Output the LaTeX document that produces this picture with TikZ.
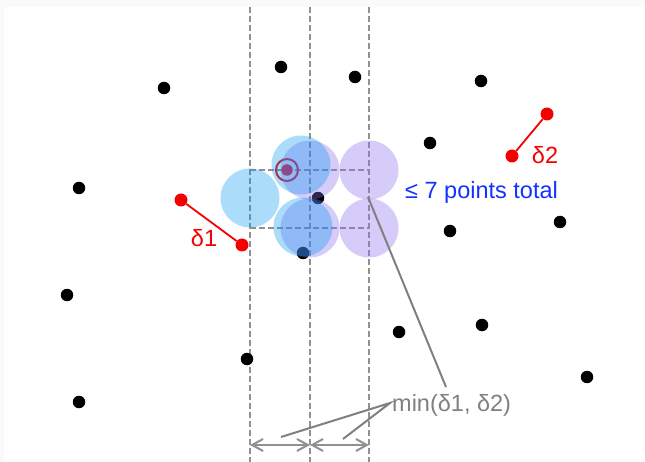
\documentclass[tikz,border=0pt]{standalone}
\usepackage{fontspec}
\setmainfont{Liberation Sans}
\usetikzlibrary{arrows.meta}
\definecolor{dotred}{RGB}{245,0,0}
\definecolor{lblue}{RGB}{0,150,240}
\definecolor{lpurp}{RGB}{140,110,240}
\definecolor{txtblue}{RGB}{20,50,255}
\definecolor{lgray}{RGB}{128,128,128}
\definecolor{dgray}{RGB}{145,145,145}
\tikzset{
  pt/.style={circle,fill=black,inner sep=0pt,minimum size=12.5pt},
  rpt/.style={circle,fill=dotred,inner sep=0pt,minimum size=13pt},
  seg/.style={draw=dotred,line width=1.8pt},
  grid/.style={draw=dgray,dash pattern=on 6pt off 3pt,line width=2pt},
  bdisk/.style={fill=lblue,fill opacity=0.33},
  pdisk/.style={fill=lpurp,fill opacity=0.35},
  ptr/.style={draw=lgray,line width=2pt},
  dim/.style={draw=dgray,line width=2pt,{Straight Barb[length=11pt,width=12pt]}-{Straight Barb[length=11pt,width=12pt]}},
  lbl/.style={font=\fontsize{23.5}{28}\selectfont,inner sep=0pt}
}
\begin{document}
\begin{tikzpicture}[x=1pt,y=-1pt]
\useasboundingbox (0,0) rectangle (645,462);
\fill[black!2] (0,0) rectangle (645,462);
\fill[white] (4,7) rectangle (645,462);
% dashed grid
\coordinate (t1) at (250,7); \coordinate (b1) at (250,462);
\coordinate (t2) at (310,7); \coordinate (b2) at (310,462);
\coordinate (t3) at (369,7); \coordinate (b3) at (369,462);
\draw[grid] (t1) -- (b1);
\draw[grid] (t2) -- (b2);
\draw[grid] (t3) -- (b3);
\coordinate (h1a) at (250,170); \coordinate (h1b) at (369,170);
\coordinate (h2a) at (250,228); \coordinate (h2b) at (369,228);
\draw[grid] (h1a) -- (h1b);
\draw[grid] (h2a) -- (h2b);
% black points
\node[pt] (p1) at (281,67) {};
\node[pt] (p2) at (355,77) {};
\node[pt] (p3) at (164,88) {};
\node[pt] (p4) at (481,81) {};
\node[pt] (p5) at (430,143) {};
\node[pt] (p6) at (79,188) {};
\node[pt] (p7) at (318,198) {};
\node[pt] (p8) at (450,231) {};
\node[pt] (p9) at (560,222) {};
\node[pt] (p10) at (303,253) {};
\node[pt] (p11) at (67,295) {};
\node[pt] (p12) at (399,332) {};
\node[pt] (p13) at (482,325) {};
\node[pt] (p14) at (247,359) {};
\node[pt] (p15) at (587,377) {};
\node[pt] (p16) at (79,402) {};
% highlighted point
\node[rpt,minimum size=11.5pt] (q) at (287,170) {};
\node[circle,draw=dotred,line width=2pt,minimum size=22pt,inner sep=0pt] (qr) at (287,170) {};
% disks
\fill[pdisk] (310,170) circle (29.5);
\fill[pdisk] (369,170) circle (29.5);
\fill[pdisk] (310,228) circle (29.5);
\fill[pdisk] (369,228) circle (29.5);
\fill[bdisk] (250,198) circle (29.5);
\fill[bdisk] (301,165) circle (29.5);
\fill[bdisk] (303,227) circle (29.5);
% delta segments
\node[rpt] (d1a) at (181,200) {};
\node[rpt] (d1b) at (242,245) {};
\draw[seg] (d1a) -- (d1b);
\node[lbl,text=dotred] (d1l) at (204,238) {δ1};
\node[rpt] (d2a) at (512,156) {};
\node[rpt] (d2b) at (547,114) {};
\draw[seg] (d2a) -- (d2b);
\node[lbl,text=dotred] (d2l) at (545,155) {δ2};
% labels
\node[lbl,text=txtblue,anchor=west] (tot) at (405,192) {≤ 7 points total};
\node[lbl,text=lgray,anchor=west] (mn) at (392,405) {min(δ1, δ2)};
% pointers
\coordinate (c0) at (368,197);
\coordinate (c1) at (446,387);
\draw[ptr] (c0) -- (c1);
\coordinate (m0) at (390,403);
\coordinate (m1) at (281,437);
\coordinate (m2) at (343,439);
\draw[ptr] (m1) -- (m0) -- (m2);
% dimension arrows
\coordinate (a1) at (250,445); \coordinate (a2) at (310,445); \coordinate (a3) at (369,445);
\draw[dim] (a1) -- (a2);
\draw[dim] (a2) -- (a3);
\end{tikzpicture}
\end{document}
